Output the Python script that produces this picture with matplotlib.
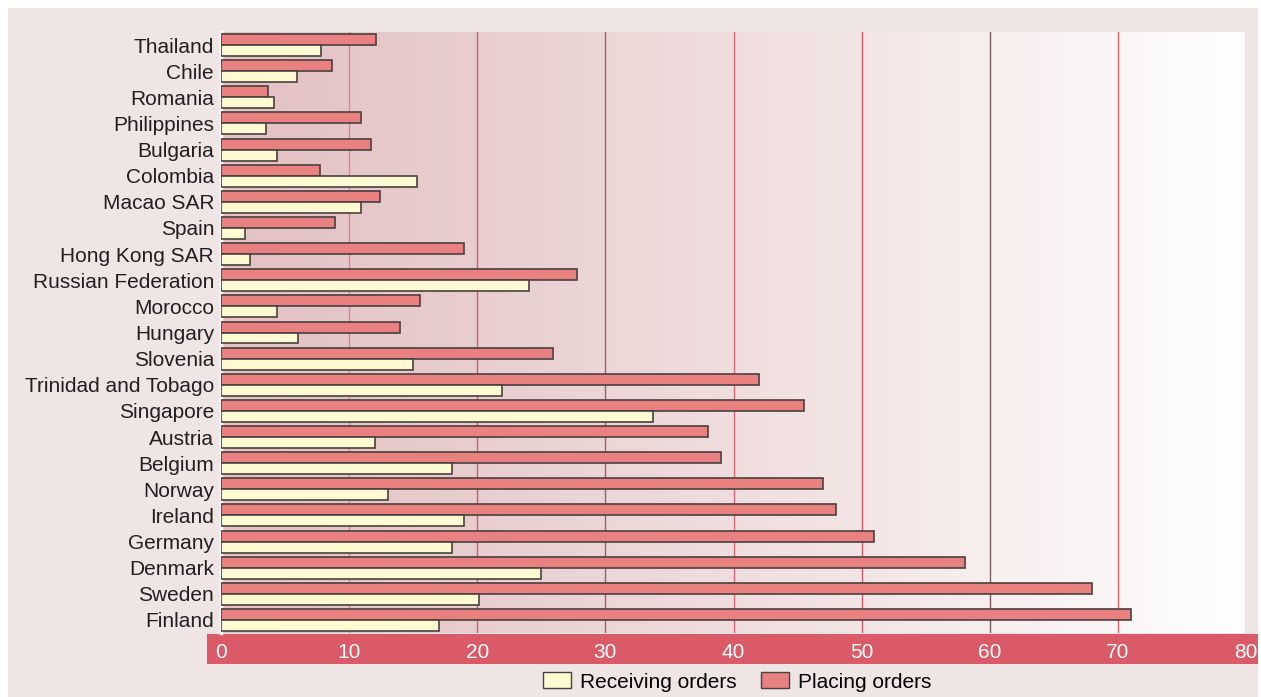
import numpy as np
import matplotlib.pyplot as plt
from matplotlib.patches import Rectangle, Patch

plt.rcParams['font.family'] = ['Liberation Sans', 'DejaVu Sans']

countries = ["Thailand", "Chile", "Romania", "Philippines", "Bulgaria", "Colombia",
             "Macao SAR", "Spain", "Hong Kong SAR", "Russian Federation", "Morocco",
             "Hungary", "Slovenia", "Trinidad and Tobago", "Singapore", "Austria",
             "Belgium", "Norway", "Ireland", "Germany", "Denmark", "Sweden", "Finland"]
placing = [12.1, 8.7, 3.7, 10.9, 11.7, 7.7, 12.4, 8.9, 19.0, 27.8, 15.5, 14.0, 25.9,
           42.0, 45.5, 38.0, 39.0, 47.0, 48.0, 51.0, 58.1, 68.0, 71.0]
receiving = [7.8, 5.9, 4.1, 3.5, 4.4, 15.3, 10.9, 1.9, 2.3, 24.0, 4.4, 6.0, 15.0,
             21.9, 33.7, 12.0, 18.0, 13.0, 19.0, 18.0, 25.0, 20.1, 17.0]
xticks = [0, 10, 20, 30, 40, 50, 60, 70, 80]

W, H = 1261, 697
fig = plt.figure(figsize=(W / 100, H / 100), dpi=100)
fig.patch.set_facecolor('white')

# outer panel
fig.add_artist(Rectangle((8 / W, 0), 1250 / W, (H - 8) / H, transform=fig.transFigure,
                         facecolor='#efe5e5', edgecolor='none', zorder=0))
# red axis band
fig.add_artist(Rectangle((207 / W, (H - 664) / H), (1258 - 207) / W, 30 / H,
                         transform=fig.transFigure, facecolor='#db5a68',
                         edgecolor='none', zorder=1))

ax = fig.add_axes([221 / W, (H - 633) / H, 1025 / W, 601 / H])
ax.set_zorder(5)
ax.set_facecolor('none')
n = len(countries)
ax.set_xlim(0, 80)
ax.set_ylim(n - 0.5, -0.5)

# gradient background
grad = np.linspace(0, 1, 256)
c0 = np.array([0.890, 0.760, 0.760])
c1 = np.array([1.0, 1.0, 1.0])
g = grad ** 1.15
img = c0[None, None, :] * (1 - g[None, :, None]) + c1[None, None, :] * g[None, :, None]
ax.imshow(img, extent=[0, 80, n - 0.5, -0.5], aspect='auto', zorder=0, interpolation='bilinear')

grid_colors = {10: '#e08090', 20: '#d05a68', 30: '#9a6068', 40: '#e06575',
               50: '#d05a68', 60: '#7a6064', 70: '#e06070', 80: '#e06070'}
for x in xticks[1:]:
    ax.axvline(x, color=grid_colors[x], lw=1.0, zorder=1)

y = np.arange(n)
h = 0.42
ax.barh(y - h / 2, placing, height=h, color='#ea8181', edgecolor='#4a4040', lw=1.2, zorder=3)
ax.barh(y + h / 2, receiving, height=h, color='#fffad2', edgecolor='#4a4040', lw=1.2, zorder=3)

ax.set_yticks(y)
ax.set_yticklabels(countries, fontsize=15, color='#231f20')
ax.tick_params(axis='y', length=0, pad=5)
ax.set_xticks(xticks)
ax.set_xticklabels([str(v) for v in xticks], fontsize=15, color='white')
ax.tick_params(axis='x', length=0, pad=7)
for s in ['top', 'right', 'bottom']:
    ax.spines[s].set_visible(False)
ax.spines['left'].set_color('white')
ax.spines['left'].set_linewidth(2.5)

handles = [Patch(facecolor='#fffad2', edgecolor='#4a4040', label='Receiving orders'),
           Patch(facecolor='#ea8181', edgecolor='#4a4040', label='Placing orders')]
fig.legend(handles=handles, loc='center', bbox_to_anchor=(737 / W, (H - 682) / H), ncol=2,
           frameon=False, fontsize=15, handlelength=1.35, handleheight=0.8,
           columnspacing=1.15, handletextpad=0.45)

fig.savefig('out.png', dpi=100, facecolor=fig.get_facecolor())
